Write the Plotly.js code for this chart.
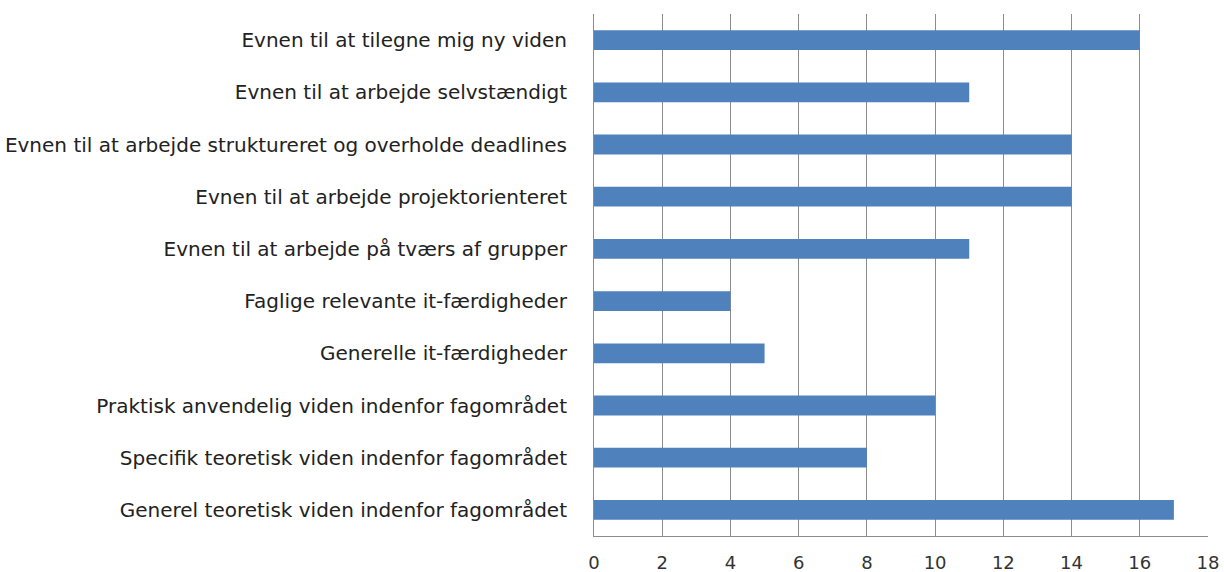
<!DOCTYPE html>
<html>
<head>
<meta charset="utf-8">
<script src="https://cdn.plot.ly/plotly-3.0.1.min.js"></script>
<style>html,body{margin:0;padding:0;background:#fff;}#chart{width:1224px;height:572px;}</style>
</head>
<body>
<div id="chart"></div>
<script>
const categories = [
  "Generel teoretisk viden indenfor fagområdet",
  "Specifik teoretisk viden indenfor fagområdet",
  "Praktisk anvendelig viden indenfor fagområdet",
  "Generelle it-færdigheder",
  "Faglige relevante it-færdigheder",
  "Evnen til at arbejde på tværs af grupper",
  "Evnen til at arbejde projektorienteret",
  "Evnen til at arbejde struktureret og overholde deadlines",
  "Evnen til at arbejde selvstændigt",
  "Evnen til at tilegne mig ny viden"
];
const values = [17, 8, 10, 5, 4, 11, 14, 14, 11, 16];
const xTicks = [0, 2, 4, 6, 8, 10, 12, 14, 16, 18];

const trace = {
  type: "bar",
  orientation: "h",
  y: categories,
  x: values,
  marker: {color: "#4f81bd"},
  hoverinfo: "x+y"
};

const layout = {
  width: 1224,
  height: 572,
  margin: {l: 594, r: 16, t: 14, b: 36},
  paper_bgcolor: "#ffffff",
  plot_bgcolor: "#ffffff",
  bargap: 0.62,
  showlegend: false,
  font: {family: "DejaVu Sans, sans-serif", size: 18, color: "#222"},
  xaxis: {
    range: [0, 18],
    tickvals: xTicks,
    ticktext: xTicks.map(String),
    showgrid: true,
    gridcolor: "#8c8c8c",
    gridwidth: 1,
    zeroline: false,
    showline: true,
    linecolor: "#8c8c8c",
    linewidth: 1,
    mirror: false,
    ticks: "",
    ticklabelstandoff: 10,
    tickfont: {size: 18, color: "#333"},
    fixedrange: true
  },
  yaxis: {
    type: "category",
    categoryorder: "array",
    categoryarray: categories,
    showgrid: false,
    zeroline: false,
    showline: true,
    linecolor: "#8c8c8c",
    linewidth: 1,
    ticks: "",
    ticklabelstandoff: 22,
    tickfont: {size: 20, color: "#222"},
    fixedrange: true
  }
};

Plotly.newPlot("chart", [trace], layout, {displayModeBar: false, staticPlot: true});
</script>
</body>
</html>
